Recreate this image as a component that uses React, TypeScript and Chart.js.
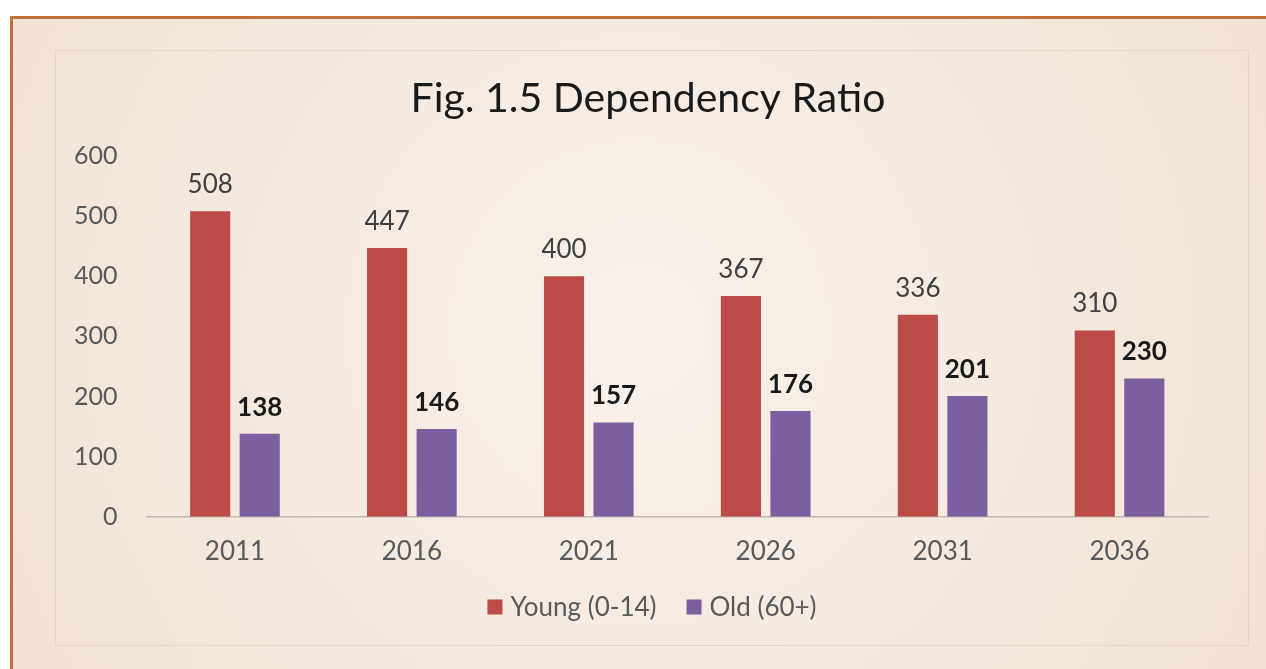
import React, { useEffect, useRef } from "react";
import { Chart, registerables } from "chart.js";

Chart.register(...registerables);

const categories = ["2011", "2016", "2021", "2026", "2031", "2036"];
const youngValues = [508, 447, 400, 367, 336, 310];
const oldValues = [138, 146, 157, 176, 201, 230];
const yTicks = [0, 100, 200, 300, 400, 500, 600];
const seriesNames = ["Young (0-14)", "Old (60+)"];
const seriesColors = ["#bc4a47", "#7c5f9e"];
const titleText = "Fig. 1.5 Dependency Ratio";

const FONT = "Lato, 'Open Sans', sans-serif";

const backgroundPlugin = {
  id: "bgPanel",
  beforeDraw(chart: any) {
    const { ctx, width, height } = chart;
    ctx.save();
    ctx.fillStyle = "#ffffff";
    ctx.fillRect(0, 0, width, height);
    const g = ctx.createRadialGradient(640, 330, 20, 640, 330, 760);
    g.addColorStop(0, "#f9f1ea");
    g.addColorStop(1, "#f1e2d5");
    ctx.fillStyle = g;
    ctx.fillRect(10, 16, width - 10, height - 16);
    ctx.fillStyle = "#c0703f";
    ctx.fillRect(10, 16, width - 10, 3);
    ctx.fillRect(10, 16, 3, height - 16);
    ctx.strokeStyle = "#e6d6c9";
    ctx.lineWidth = 1;
    ctx.strokeRect(55.5, 50.5, 1193, 595);
    ctx.restore();
  },
};

const labelPlugin = {
  id: "barLabels",
  afterDatasetsDraw(chart: any) {
    const { ctx } = chart;
    ctx.save();
    ctx.textAlign = "center";
    ctx.textBaseline = "alphabetic";
    chart.data.datasets.forEach((ds: any, di: number) => {
      const meta = chart.getDatasetMeta(di);
      ctx.font = di === 0 ? `normal 26px ${FONT}` : `bold 26px ${FONT}`;
      ctx.fillStyle = di === 0 ? "#404040" : "#1a1a1a";
      meta.data.forEach((el: any, i: number) => {
        ctx.fillText(String(ds.data[i]), el.x, el.y - 18);
      });
    });
    ctx.restore();
  },
};

const titleLegendPlugin = {
  id: "titleLegend",
  afterDraw(chart: any) {
    const { ctx } = chart;
    ctx.save();
    // title
    ctx.font = `normal 41px ${FONT}`;
    ctx.fillStyle = "#1a1a1a";
    ctx.textAlign = "center";
    ctx.textBaseline = "middle";
    ctx.fillText(titleText, 648, 99);
    // legend
    ctx.font = `normal 26px ${FONT}`;
    const box = 15;
    const gapText = 8;
    const gapItem = 30;
    const widths = seriesNames.map((n) => box + gapText + ctx.measureText(n).width);
    const total = widths.reduce((a, b) => a + b, 0) + gapItem * (widths.length - 1);
    let x = 652 - total / 2;
    const cy = 607;
    ctx.textAlign = "left";
    seriesNames.forEach((n, i) => {
      ctx.fillStyle = seriesColors[i];
      ctx.fillRect(x, cy - box / 2, box, box);
      ctx.fillStyle = "#595959";
      ctx.fillText(n, x + box + gapText, cy + 1);
      x += widths[i] + gapItem;
    });
    ctx.restore();
  },
};

export default function App() {
  const ref = useRef<HTMLCanvasElement | null>(null);
  useEffect(() => {
    const canvas = ref.current;
    if (!canvas) return;
    const chart = new Chart(canvas, {
      type: "bar",
      data: {
        labels: categories,
        datasets: [
          {
            label: seriesNames[0],
            data: youngValues,
            backgroundColor: seriesColors[0],
            categoryPercentage: 0.56,
            barPercentage: 0.81,
          },
          {
            label: seriesNames[1],
            data: oldValues,
            backgroundColor: seriesColors[1],
            categoryPercentage: 0.56,
            barPercentage: 0.81,
          },
        ],
      },
      options: {
        responsive: false,
        animation: false,
        layout: { padding: { left: 45, right: 58, top: 156, bottom: 83 } },
        scales: {
          x: {
            grid: { display: false, drawTicks: false },
            border: { display: true, color: "#c4bab2", width: 1.5 },
            ticks: {
              color: "#595959",
              font: { family: FONT, size: 26 },
              padding: 19,
            },
          },
          y: {
            min: 0,
            max: 600,
            afterBuildTicks: (axis: any) => {
              axis.ticks = yTicks.map((v) => ({ value: v }));
            },
            grid: { display: false, drawTicks: false },
            border: { display: false },
            ticks: {
              color: "#595959",
              font: { family: FONT, size: 25 },
              padding: 29,
            },
          },
        },
        plugins: {
          title: { display: false },
          legend: { display: false },
          tooltip: { enabled: false },
        },
      },
      plugins: [backgroundPlugin, labelPlugin, titleLegendPlugin],
    });
    return () => chart.destroy();
  }, []);
  return (
    <div style={{ position: "fixed", left: 0, top: 0, width: 1266, height: 669 }}>
      <canvas ref={ref} width={1266} height={669} />
    </div>
  );
}
